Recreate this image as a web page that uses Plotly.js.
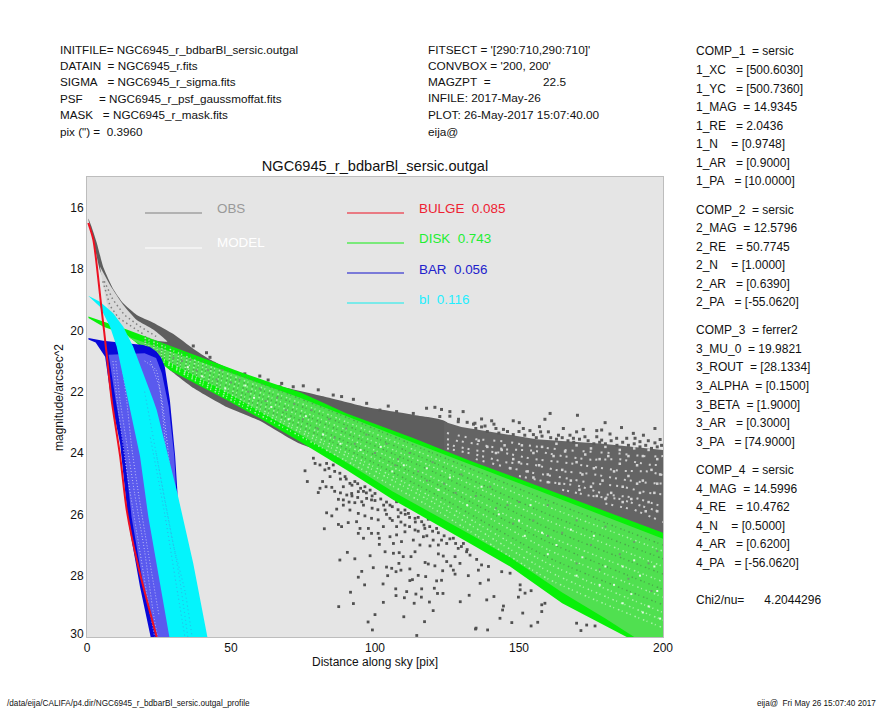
<!DOCTYPE html>
<html><head><meta charset="utf-8">
<script src="https://cdn.plot.ly/plotly-3.0.1.min.js"></script>
<style>html,body{margin:0;padding:0;background:#fff}#c{width:885px;height:708px}</style></head>
<body><div id="c"></div>
<script>
// ---- envelopes (distance [pix], magnitude) ----
const obsTopX=[0.5,1.5,3.4,5.7,9.1,12.6,17.3,23,30,36.9,42.7,55.4,67,82,97,113,125];
const obsTopY=[16.35,16.6,17.15,17.95,18.65,19.12,19.5,19.75,20.12,20.6,20.95,21.5,21.82,22.15,22.5,22.75,23];
const obsLowX=[125,74,60,48.5,37,27.7,13.8,10.3,6.8,4.5,2.5,0.5];
const obsLowY=[25,23.7,22.95,22.5,21.88,21.2,19.78,19.22,18.52,18.05,17.2,16.4];
const sparseX=[124,130,156,179,200,200,124];
const sparseY=[22.98,23.15,23.55,23.7,23.9,27,25];
const modelX=[4.5,8,12.6,17.3,23,27.9,22,13,9.1,6.8,5.1];
const modelY=[17.92,18.52,19.17,19.66,19.97,20.37,20.3,20,19.76,19.1,18.25];
const diskTopX=[0.5,5.7,13.8,26.5,40.4,53,64.7,74,90,113,133,156,179,200];
const diskTopY=[19.55,19.72,19.97,20.42,20.91,21.35,21.73,22.02,22.7,23.5,24.25,25.05,25.85,26.6];
const diskLowX=[200,187.4,165,146.9,133,106.4,90,74,60,48.5,28.8,13.8,5.7,0.5];
const diskLowY=[30,30,28.9,27.7,26.95,25.53,24.55,23.63,22.87,22.27,21.3,20.15,19.88,19.6];
const diskMidX=[14,40,74,113,156,200,200,190,180,165,146.9,133,106,90,74,48.5,28.8];
const diskMidY=[20.2,21.05,22.2,23.65,25.2,26.8,30,30,29.4,28.55,27.4,26.65,25.25,24.3,23.4,22.02,21.05];
const diskRowX=[20,40,80,120,160,200];
const diskRow1=[20.2,21,22.45,24,25.55,27];
const diskRow2=[20.25,21.08,22.6,24.15,25.75,27.2];
const diskRow3=[20.3,21.15,22.7,24.3,26,27.45];
const diskRow4=[20.35,21.2,22.85,24.45,26.2,27.7];
const diskRow5=[20.38,21.28,22.95,24.6,26.45,27.95];
const diskRow6=[20.42,21.35,23.05,24.8,26.7,28.2];
const diskRow7=[20.47,21.42,23.2,24.95,26.9,28.45];
const diskRow8=[20.5,21.5,23.3,25.1,27.15,28.7];
const diskRow9=[20.55,21.55,23.4,25.3,27.4,28.95];
const diskRow10=[20.6,21.62,23.5,25.45,27.6,29.2];
const diskRow11=[20.63,21.7,23.6,25.6,27.85,29.45];
const diskRow12=[20.67,21.77,23.75,25.8,28.1,29.7];
const barX=[0.5,5.6,19.5,22,24.2,25.8,27,28.8,30.6,31.4,31,30,22.1,18.4,14.3,11.5,8.6,6.3,3,0.5];
const barY=[20.25,20.34,20.48,20.55,20.7,20.9,21.18,22.3,24.1,25.26,27,30,30,28.36,26.2,23.7,22.38,20.86,20.4,20.3];
const barMidX=[7.5,20,24,26,28.4,30.3,31,29.5,24,19.5,15.5,12.8,10];
const barMidY=[20.8,20.75,20.9,21.4,22.5,24.1,25.3,30,30,28.3,26.1,23.8,22.3];
const barStreakAX=[10,11.5,14,16.5,20,23,24.5], barStreakAY=[21,22.3,23.8,25.3,27.2,29.2,30];
const barStreakBX=[12,13.8,15.5,18,21,25], barStreakBY=[21,22.3,23.8,25.4,27.1,29.3];
const barStreakEX=[9,10.5,12.6,15,18,21.5,23.5], barStreakEY=[21,22.3,23.8,25.3,27,29,30];
const barStreakCX=[20,24,26,27,28], barStreakCY=[21,21.3,22.5,23.5,24.8];
const barStreakDX=[22,25.5,28,29.2], barStreakDY=[21,22,23.8,25];
const blX=[0.4,4.5,9.1,12.6,16,19.6,23,24.2,31.1,36.9,41.8,28.6,24.8,21.3,18.4,14.6,12.6,10.3,8,4.5];
const blY=[18.87,19.07,19.44,19.88,20.53,21.4,22.27,22.6,25.2,27.6,30,30,28.03,26.08,24.1,22.4,21.5,20.53,19.88,19.23];
const blStreakAX=[20,25,29,32,35], blStreakAY=[22,24.5,26.5,28,30];
const blStreakBX=[22,27,31,34], blStreakBY=[23.5,26,28.3,30];
const blStreakCX=[24,30,34,36.5], blStreakCY=[24,27,28.5,30];
const bulgeX=[0.45,2.2,5.1,6.8,8.6,11.5,13.8,17.8,24.2];
const bulgeY=[16.5,17.05,19.34,20.75,22.3,24.1,25.86,27.7,30];
// ---- individual obs points ----
const obsUpX=[36.9,41.5,42.7,54.8,60,62.9,67,67.6,71.6,75.1,80.3,85.5,88.4,92.5,97.1,101.7,104.6,107.5,113.3,117.9,120.8,123.1,126,130.6,122.5,128.9,134.7,137,140.5,141.3,150.1,148,159,170.3,160.8,185.6,179.9,165.4,172.3,178.7,177,157.1,189.7,193.2,197.2,134.2,138.2,144.6,151.5,153.8,157.5,160.2,163.7,167.7,170,172.9,177,181.6,183.9,187.4,190.3,194.9,199,197.2,192,178.7,168.9,
126,129,132,135,137,139,142,143,146,148,150,152,155,156,158,161,163,165,167,169,171,174,176,178,180,182,184,186,188,190,192,194,196,198,199.5];
const obsUpY=[20.51,20.73,20.88,21.42,21.49,21.62,21.84,21.73,21.84,21.81,21.94,22.11,22.16,22.25,22.38,22.6,22.47,22.65,22.71,22.54,22.51,22.58,22.65,22.65,22.81,22.98,23.03,22.89,22.95,23.06,23.01,22.95,22.9,22.77,22.71,23.17,23.01,23.2,23.23,23.25,23.27,23.14,23.36,23.42,23.2,23.06,23.12,23.23,23.2,23.27,23.31,23.31,23.42,23.42,23.31,23.47,23.47,23.38,23.52,23.52,23.52,23.6,23.56,23.67,23.63,23.58,23.52,
22.8,22.9,23,23.2,23.15,23.3,23.2,23.35,23.3,23.4,23.3,23.42,23.4,23.5,23.45,23.5,23.55,23.5,23.6,23.65,23.55,23.6,23.7,23.65,23.7,23.6,23.75,23.65,23.75,23.7,23.8,23.75,23.85,23.8,23.75];
const obsDownX=[82.4,76.5,75.7,87.8,90.4,93,87.4,92.5,91.5,96.4,94.2,95.4,99.4,98.3,97.6,99.1,100,102.9,102.8,104.4,104,105.8,107.3,109,108.3,108.4,109.8,112.5,113.9,112.1,107.2,107.3,111,110.2,110,113.6,114.2,116.2,116.1,118.9,120.2,117.2,114.5,112.1,113,115,117.6,117.4,118.5,120.8,121.4,123.1,120.6,121.7,123.6,123.5,124.9,126.3,127.2,127.8,129.5,132.4,132.7,129.6,134.9,135.9,133,135.3,127.8,122,123.7,
78.6,79.2,80.9,83.2,82.6,85.5,84.4,81.8,80.9,80.3,85,87.8,89.6,89,91.3,93,90.2,91.9,94.2,96.5,98.3,100,97.1,98.8,95.4,93,89,87.3,89,91.3,94.2,86.7,83.2,85,87.3,88.4,90.7,93.6,96.5,98.8,101.1,103.5,105.2,107.5,110.4,111.6,108.1,105.2,102.9,107.5,110.4,113.9,116.2,118.5,117.3,113.9,110.4,107.5,105.2,101.1,97.7,94.8,94.2,96,98.8,101.5,101.5,106.4,109.2,113.3,116.8,121.4,123.1,119.1,115.6,120.2,124.9,127.2,130.7,128.9,131.8,103.5,106.4,
138.8,141.3,136.5,139.4,144.6,144.3,143.4,147.5,151.3,154.2,156.5,157.9,157.9,159,149.8,150.4,152.1,154.2,150.4,146.9,144,139.4,137,170,173.5,176.4,171.5,135.1,139.1,
84,86,88,90,92,94,95,96,97,99,100,102,103,104,106,108,109,110.5,112,114,115,117,119,120,122,124,126,128,130,132,92,94,96,99,101,91,88,86,83,104,106,109,112,115,118,122];
const obsDownY=[26.47,24.93,24.58,27.49,27.24,27.45,29.01,28.91,28.54,28.3,28.05,27.86,27.74,27.35,29.51,29.77,29.27,28.87,28.27,28,27.72,27.76,27.87,27.82,27.6,27.25,27.38,27.38,27.22,27.78,28.43,28.65,28.52,28.72,29.34,28.9,28.6,28.43,28.7,28.86,29.14,29.5,29.95,28.16,28.13,27.99,28.03,27.57,27.62,27.68,28.17,28.15,28.41,28.58,28.58,27.84,27.54,27.68,27.82,27.95,27.6,28,28.64,28.85,29.74,27.82,27.33,27.47,27.38,27.29,27.36,
24.17,24.34,24.39,24.34,24.55,24.39,24.77,24.93,25.15,25.29,25.12,24.66,24.77,25.1,24.99,24.93,25.37,25.32,25.26,25.1,25.21,25.32,25.48,25.53,25.59,25.62,25.53,25.51,25.7,25.86,25.97,25.83,25.95,26.05,26.33,26.4,26.27,26.24,26.05,26.13,26.18,25.86,25.7,25.59,25.86,25.97,26.08,26.13,26.4,26.4,26.35,26.13,26.24,26.16,26.46,26.51,26.57,26.67,26.73,26.62,26.46,26.46,26.62,26.78,26.62,26.78,26.98,26.95,26.89,26.84,26.73,26.46,26.84,27.03,27,26.84,26.95,26.78,26.95,27.11,27.22,27.22,27.27,
28.79,28.68,28.25,28.14,28.99,29.12,29.39,29.53,29.22,29.64,29.52,29.17,28.95,28.9,28.7,28.46,28.57,28.49,28.3,27.92,27.87,27.7,27.65,29.55,29.61,29.64,29.79,29.71,29.77,
24.5,24.6,24.85,24.85,25.05,25,25.15,25.25,25.3,25.4,25.55,25.5,25.7,25.6,25.75,25.85,25.95,26,26.1,26.25,26.1,26.35,26.4,26.55,26.6,26.7,26.8,26.95,27.05,27.15,25.4,25.45,25.7,25.8,25.85,25.6,25.3,25.25,25.1,26,26.2,26.25,26.4,26.55,26.7,27];
const obsGapX=[136,145,144,151,155,158,162,163,166,170,170,173,175,178,176,180,181,183,185,185,188,188,190,191,193,193,195,196,198,198,199,150,153,157,160,165,168,172,175,179,182,186,189,192,195,198,194,197,191,186,180,177,171,164,160,155,148,142,139,147];
const obsGapY=[23.6,23.75,23.9,23.75,24,23.8,24.1,23.7,23.95,23.75,24.3,24.05,23.85,24.2,24.5,23.8,24.1,24.6,23.9,24.35,24.1,24.75,23.85,24.4,24.1,24.9,23.9,24.55,24.2,25,24.7,24.3,24.6,24.4,24.7,24.55,24.9,24.7,25.1,24.9,25.3,25.1,25.5,25.3,25.6,25.9,25.9,25.3,25,25.6,25.5,25.4,25.2,25,24.95,24.8,24.2,24,23.8,24.5];
const gapRowX=[125,135,145,155,165,175,185,195,200];
const gapRow1=[23.35,23.55,23.62,23.78,23.9,23.95,24.02,24.12,24.1];
const gapRow2=[23.55,23.7,23.88,23.92,24.1,24.22,24.2,24.38,24.4];
const gapRow3=[23.72,23.92,24,24.2,24.3,24.45,24.58,24.6,24.72];
const gapRow4=[23.85,24.05,24.3,24.38,24.6,24.68,24.85,24.98,25];
const gapRow5X=[135,145,155,165,175,185,195,200], gapRow5Y=[24.2,24.45,24.65,24.8,24.98,25.08,25.3,25.35];
const gapRow6X=[150,160,170,180,190,200], gapRow6Y=[24.75,24.95,25.05,25.35,25.45,25.75];
const gapRow7X=[165,175,185,195,200], gapRow7Y=[25.2,25.4,25.5,25.8,25.95];
const gapRow8X=[180,190,200], gapRow8Y=[25.65,25.85,26.25];
const modelRowAX=[6,9,13,18,24], modelRowAY=[18.4,19,19.5,19.85,20.2];
const modelRowBX=[5.5,8,11,15,20], modelRowBY=[18.4,19.2,19.6,19.85,20.15];
const diskGrayX=[22,25,30,33,36,38,42,45,47,50,53,56,60,62,66,69,72,75,78,80,84,86,90,93,97,100,104,107,112,115,120,124,130,135,140,146,150,155,160,165,170,175,180,185,190,195,198,170,160,148,178,188,196,142,128,118,108];
const diskGrayY=[20.6,20.7,20.9,21,20.95,21.3,21.3,21.6,21.3,21.7,21.6,22,21.9,22.3,22.2,22.6,22.4,22.9,22.6,23.2,22.9,23.5,23.2,23.7,23.4,24,23.7,24.4,24,24.6,24.3,25,24.7,25.4,25.1,25.7,25.6,26.2,25.7,26.6,26.2,27,26.4,27.3,26.9,27.6,27.2,27.6,26.7,26.3,27.8,28.1,28.5,25.8,25.3,24.9,24.2];
const diskPaleX=[25,35,40,48,55,58,64,70,76,82,88,95,102,106,110,118,122,126,132,137,143,150,154,158,163,168,172,176,180,183,186,189,192,195,198,199,193,186,197,190,178,170,160,152];
const diskPaleY=[20.9,21.2,21.5,21.9,21.8,22.2,22.5,22.9,22.8,23.4,23.7,23.9,23.8,24.6,24.4,24.5,25.2,24.8,25.7,25.1,26,26.2,25.7,26.6,27,26.5,27.4,26.7,27.7,28.3,27.7,28.6,28,29,28.5,29.4,29.2,28.9,27.7,27.5,28.3,28,27.3,26.7];
// ---- tick labels and page text ----
const xTicks=[0,50,100,150,200];
const yTickVals=[16,18,20,22,24,26,28,29.9];
const yTickText=['16','18','20','22','24','26','28','30'];
const chartTitle='NGC6945_r_bdbarBl_sersic.outgal';
const xLabel='Distance along sky [pix]';
const yLabel='magnitude/arcsec^2';
const headerLeft=['INITFILE= NGC6945_r_bdbarBl_sersic.outgal','DATAIN  = NGC6945_r.fits','SIGMA   = NGC6945_r_sigma.fits','PSF     = NGC6945_r_psf_gaussmoffat.fits','MASK   = NGC6945_r_mask.fits','pix (") =  0.3960'];
const headerLeftY=[49.5,66,82,98,115,131.5];
const headerMid=["FITSECT = '[290:710,290:710]'","CONVBOX = '200, 200'",'MAGZPT  =                22.5','INFILE: 2017-May-26','PLOT: 26-May-2017 15:07:40.00','eija@'];
const paramText=['COMP_1  = sersic','1_XC   = [500.6030]','1_YC   = [500.7360]','1_MAG  = 14.9345','1_RE   = 2.0436','1_N    = [0.9748]','1_AR   = [0.9000]','1_PA   = [10.0000]',
'COMP_2  = sersic','2_MAG  = 12.5796','2_RE   = 50.7745','2_N    = [1.0000]','2_AR   = [0.6390]','2_PA   = [-55.0620]',
'COMP_3  = ferrer2','3_MU_0  = 19.9821','3_ROUT  = [28.1334]','3_ALPHA  = [0.1500]','3_BETA  = [1.9000]','3_AR   = [0.3000]','3_PA   = [74.9000]',
'COMP_4  = sersic','4_MAG  = 14.5996','4_RE   = 10.4762','4_N    = [0.5000]','4_AR   = [0.6200]','4_PA   = [-56.0620]','Chi2/nu=      4.2044296'];
const paramY=[51.5,70,88.5,107,126,144,163,181,209.5,228,247,265,284,302,330,349,367,386,405,423,442,470,489,507,526,544,563,600];
const legendNames=['OBS','MODEL','BULGE  0.085','DISK  0.743','BAR  0.056','bl  0.116'];
const legendColors=['#999999','#ffffff','#ee2233','#22ee33','#2222cc','#22eeff'];
const legendLineColors=['#808080','#ffffff','#ee1122','#11ee11','#1111cc','#11eeee'];
const footerLeft='/data/eija/CALIFA/p4.dir/NGC6945_r_bdbarBl_sersic.outgal_profile';
const footerRight='eija@  Fri May 26 15:07:40 2017';

// ---- page geometry ----
const L=87,T=177,R=663,B=637;
const px=v=>(v-L)/(R-L), py=v=>(B-v)/(B-T);
const FONT='"Liberation Sans", Arial, sans-serif';
const keep=s=>s.replace(/ /g,'\u00a0');
const poly=(x,y,c,sm)=>({x,y,type:'scatter',mode:'lines',fill:'toself',fillcolor:c,line:{width:0,color:c,shape:sm?'spline':'linear',smoothing:sm||0},hoverinfo:'skip',showlegend:false});
const dots=(x,y,c,s,sym)=>({x,y,type:'scatter',mode:'markers',marker:{color:c,size:s,symbol:sym||'square',line:{width:0}},hoverinfo:'skip',showlegend:false});
const path=(x,y,c,w,d,sm)=>({x,y,type:'scatter',mode:'lines',line:{color:c,width:w,dash:d||'solid',shape:sm?'spline':'linear',smoothing:sm||0},hoverinfo:'skip',showlegend:false});
const PALE='#a8f2a8', DIM='#4aa84a', FINE='1.5px,2.5px,1px,4px', GAPC='#cfcfcf', GAPD='2px,4px,2px,7px';

const traces=[
 poly(obsTopX.concat(obsLowX),obsTopY.concat(obsLowY),'#5e5e5e',0.5),
 poly(sparseX,sparseY,'#646464'),
 path(gapRowX,gapRow1,GAPC,2,'2px,9px,2px,5px'),
 path(gapRowX,gapRow2,GAPC,2,'2px,7px,2px,4px'),
 path(gapRowX,gapRow3,GAPC,2,GAPD),
 path(gapRowX,gapRow4,GAPC,2,GAPD),
 path(gapRow5X,gapRow5Y,GAPC,2,'2px,5px,2px,8px'),
 path(gapRow6X,gapRow6Y,GAPC,2,GAPD),
 path(gapRow7X,gapRow7Y,GAPC,2,'2px,3px,2px,6px'),
 path(gapRow8X,gapRow8Y,GAPC,2,GAPD),
 dots(obsGapX,obsGapY,'#d4d4d4',2.5),
 dots(obsUpX,obsUpY,'#5a5a5a',3),
 dots(obsDownX,obsDownY,'#505050',2.8),
 poly(modelX,modelY,'#d8d8d8',0.5),
 path(modelRowAX,modelRowAY,'#808080',1.5,'1.5px,3px'),
 path(modelRowBX,modelRowBY,'#808080',1.5,'1.5px,3px'),
 poly(diskTopX.concat(diskLowX),diskTopY.concat(diskLowY),'#08f008'),
 poly(diskMidX,diskMidY,'#50e050'),
 path(diskRowX,diskRow1,DIM,1.5,FINE,0.6),
 path(diskRowX,diskRow2,PALE,1.5,FINE,0.6),
 path(diskRowX,diskRow3,DIM,1.5,FINE,0.6),
 path(diskRowX,diskRow4,PALE,1.5,FINE,0.6),
 path(diskRowX,diskRow5,DIM,1.5,FINE,0.6),
 path(diskRowX,diskRow6,PALE,1.5,FINE,0.6),
 path(diskRowX,diskRow7,DIM,1.5,FINE,0.6),
 path(diskRowX,diskRow8,PALE,1.5,FINE,0.6),
 path(diskRowX,diskRow9,DIM,1.5,FINE,0.6),
 path(diskRowX,diskRow10,PALE,1.5,FINE,0.6),
 path(diskRowX,diskRow11,PALE,1.5,FINE,0.6),
 path(diskRowX,diskRow12,PALE,1.5,FINE,0.6),
 dots(diskGrayX,diskGrayY,'#6c9c6c',2),
 dots(diskPaleX,diskPaleY,'#e2fae2',2),
 poly(barX,barY,'#0808d8'),
 poly(barMidX,barMidY,'#5a5aee'),
 path(barStreakAX,barStreakAY,'#c0c0f4',1,'1px,2px',0.6),
 path(barStreakBX,barStreakBY,'#c0c0f4',1,'1px,2px',0.6),
 path(barStreakEX,barStreakEY,'#c0c0f4',1,'1px,2px',0.6),
 path(barStreakCX,barStreakCY,'#c0c0f4',1,'1px,2px',0.6),
 path(barStreakDX,barStreakDY,'#c0c0f4',1,'1px,2px',0.6),
 poly(blX,blY,'#04f4fc'),
 path(blStreakAX,blStreakAY,'#30b0e8',1,'1px,3px',0.6),
 path(blStreakBX,blStreakBY,'#30b0e8',1,'1px,3px',0.6),
 path(blStreakCX,blStreakCY,'#30b0e8',1,'1px,3px',0.6),
 path(bulgeX,bulgeY,'#ee1122',2,'solid',0.7)
];

const ann=[];
const text=(t,x,y,size,color)=>ann.push({text:keep(t),xref:'paper',yref:'paper',x:px(x-2),y:py(y),xanchor:'left',yanchor:'middle',showarrow:false,font:{family:FONT,size,color:color||'#111'},align:'left'});
headerLeft.forEach((t,i)=>text(t,60,headerLeftY[i],11.7));
headerMid.forEach((t,i)=>text(t,428,headerLeftY[i],11.8));
paramText.forEach((t,i)=>text(t,695.5,paramY[i],12));
const legTextX=[217,217,419,419,419,419], legTextY=[208,243,208,238,269,299];
const legLine=[[145,202,213],[145,202,248],[347,404,213],[347,404,243],[347,404,273],[347,404,303]];
legendNames.forEach((t,i)=>text(t,legTextX[i],legTextY[i],13.4,legendColors[i]));
text(footerLeft,7,703,8.2);
text(footerRight,757,703,8.2);
ann.push({text:yLabel,xref:'paper',yref:'paper',x:px(59),y:py(398),xanchor:'center',yanchor:'middle',textangle:-90,showarrow:false,font:{family:FONT,size:12,color:'#111'}});
const shapes=legLine.map((l,i)=>({type:'line',xref:'paper',yref:'paper',x0:px(l[0]),x1:px(l[1]),y0:py(l[2]),y1:py(l[2]),line:{color:legendLineColors[i],width:1.2}}));

const axFont={family:FONT,size:12,color:'#111'};
const layout={
 width:885,height:708,paper_bgcolor:'#ffffff',plot_bgcolor:'#e5e5e5',showlegend:false,
 margin:{l:L,r:885-R,t:T,b:708-B,pad:0},
 title:{text:chartTitle,x:375/885,xanchor:'center',y:1-166/708,yanchor:'middle',font:{family:FONT,size:14.6,color:'#111'}},
 xaxis:{range:[0,200],tickmode:'array',tickvals:xTicks,ticktext:xTicks.map(String),showgrid:false,zeroline:false,ticks:'',showline:true,mirror:true,linecolor:'#bdbdbd',linewidth:1,tickfont:axFont,
  title:{text:xLabel,font:axFont,standoff:3}},
 yaxis:{range:[30,15],tickmode:'array',tickvals:yTickVals,ticktext:yTickText,showgrid:false,zeroline:false,ticks:'',showline:true,mirror:true,linecolor:'#bdbdbd',linewidth:1,tickfont:axFont},
 annotations:ann,shapes
};
Plotly.newPlot('c',traces,layout,{displayModeBar:false,staticPlot:true});
</script></body></html>
